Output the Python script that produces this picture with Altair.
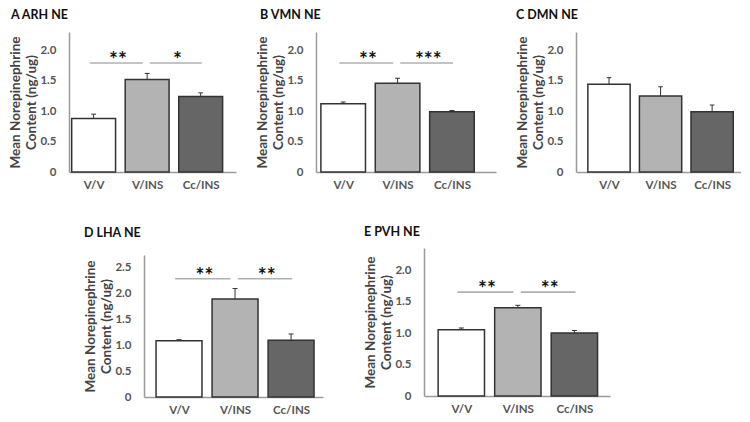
import altair as alt
import pandas as pd

# ---------------- data ----------------
groups = ["V/V", "V/INS", "Cc/INS"]
bar_fills = ["#ffffff", "#b3b3b3", "#666666"]

arh_mean = [0.88, 1.52, 1.24]
arh_upper = [0.95, 1.62, 1.30]
arh_sig_labels = ["**", "*"]
arh_sig_from = [0, 1]
arh_sig_to = [1, 2]
arh_sig_level = 1.79

vmn_mean = [1.12, 1.46, 0.99]
vmn_upper = [1.15, 1.54, 1.01]
vmn_sig_labels = ["**", "***"]
vmn_sig_from = [0, 1]
vmn_sig_to = [1, 2]
vmn_sig_level = 1.79

dmn_mean = [1.44, 1.25, 0.99]
dmn_upper = [1.55, 1.40, 1.10]

lha_mean = [1.09, 1.90, 1.10]
lha_upper = [1.11, 2.10, 1.22]
lha_sig_labels = ["**", "**"]
lha_sig_from = [0, 1]
lha_sig_to = [1, 2]
lha_sig_level = 2.29

pvh_mean = [1.05, 1.40, 1.00]
pvh_upper = [1.08, 1.44, 1.04]
pvh_sig_labels = ["**", "**"]
pvh_sig_from = [0, 1]
pvh_sig_to = [1, 2]
pvh_sig_level = 1.65

ticks_20 = [0, 0.5, 1.0, 1.5, 2.0]
ticks_25 = [0, 0.5, 1.0, 1.5, 2.0, 2.5]

FONT = "Lato"
YTITLE = ["Mean Norepinephrine", "Content (ng/ug)"]
label_expr_x = "['" + "','".join(groups) + "'][datum.value]"


def panel(title, mean, upper, sig, ymax, yticks, xdom, w, h, title_dx,
          title_offset, yrange=None, title_pad=1):
    df = pd.DataFrame({"group": groups, "idx": [0, 1, 2], "mean": mean,
                       "upper": upper, "fill": bar_fills})
    xs = alt.Scale(domain=xdom, nice=False, zero=False)
    if yrange is not None:
        ys = alt.Scale(domain=[0, ymax], nice=False, range=yrange)
    else:
        ys = alt.Scale(domain=[0, ymax], nice=False)
    xaxis = alt.Axis(values=[0, 1, 2], labelExpr=label_expr_x, title=None,
                     labelPadding=7)
    yaxis = alt.Axis(values=yticks, title=YTITLE, titlePadding=title_pad,
                     labelExpr="datum.value == 0 ? '0' : format(datum.value, '.1f')",
                     labelPadding=13)

    base = alt.Chart(df).transform_calculate(
        x0="datum.idx - 0.41", x1="datum.idx + 0.41",
        c0="datum.idx - 0.045", c1="datum.idx + 0.045")

    bars = base.mark_rect(stroke="#333333", strokeWidth=1.5).encode(
        x=alt.X("x0:Q", scale=xs, axis=xaxis), x2="x1:Q",
        y=alt.Y("mean:Q", scale=ys, axis=yaxis), y2=alt.datum(0),
        fill=alt.Fill("fill:N", scale=None, legend=None))
    err = base.mark_rule(color="#333333", strokeWidth=1).encode(
        x=alt.X("idx:Q", scale=xs, axis=xaxis),
        y=alt.Y("mean:Q", scale=ys, axis=yaxis), y2="upper:Q")
    cap = base.mark_rule(color="#333333", strokeWidth=1).encode(
        x=alt.X("c0:Q", scale=xs, axis=xaxis), x2="c1:Q",
        y=alt.Y("upper:Q", scale=ys, axis=yaxis))
    layers = [bars, err, cap]

    if sig is not None:
        labels, frm, to, level = sig
        sdf = pd.DataFrame({"label": labels, "frm": frm, "to": to,
                            "level": [level] * len(labels)})
        sbase = alt.Chart(sdf).transform_calculate(
            s="datum.frm + 0.12 * datum.frm - 0.07",
            e="datum.to + 0.1 * datum.to - 0.18").transform_calculate(
            m="(datum.s + datum.e) / 2 + 0.03")
        srule = sbase.mark_rule(color="#b0b0b0", strokeWidth=1.6).encode(
            x=alt.X("s:Q", scale=xs, axis=xaxis), x2="e:Q",
            y=alt.Y("level:Q", scale=ys, axis=yaxis))
        stext = sbase.mark_text(font=FONT, fontSize=21, fontWeight="bold",
                                color="#111111", baseline="alphabetic",
                                dy=4).encode(
            x=alt.X("m:Q", scale=xs, axis=xaxis),
            y=alt.Y("level:Q", scale=ys, axis=yaxis),
            text="label:N")
        layers += [srule, stext]

    return alt.layer(*layers).properties(
        width=w, height=h,
        title=alt.TitleParams(title, anchor="start", dx=title_dx,
                              offset=title_offset))


pA = panel("A  ARH NE", arh_mean, arh_upper,
           (arh_sig_labels, arh_sig_from, arh_sig_to, arh_sig_level),
           2.3, ticks_20, [-0.46, 2.66], 167, 140, 2, 11)
pB = panel("B  VMN NE", vmn_mean, vmn_upper,
           (vmn_sig_labels, vmn_sig_from, vmn_sig_to, vmn_sig_level),
           2.3, ticks_20, [-0.5, 2.81], 180, 140, 4, 11)
pC = panel("C  DMN NE", dmn_mean, dmn_upper, None,
           2.3, ticks_20, [-0.64, 2.56], 165, 140, 0, 11)
pD = panel("D  LHA NE", lha_mean, lha_upper,
           (lha_sig_labels, lha_sig_from, lha_sig_to, lha_sig_level),
           2.75, ticks_25, [-0.625, 2.57], 179, 149, 0, 9, yrange=[149, 7])
pE = panel("E  PVH NE", pvh_mean, pvh_upper,
           (pvh_sig_labels, pvh_sig_from, pvh_sig_to, pvh_sig_level),
           2.35, ticks_20, [-0.66, 2.63], 186, 148, 0, 10)

spacer = alt.Chart(pd.DataFrame({"v": [0]})).mark_point(opacity=0, size=1).encode(
    x=alt.X("v:Q", axis=None), y=alt.Y("v:Q", axis=None)).properties(
    width=1, height=1)

top = alt.hconcat(pA, pB, pC, spacing=19)
bottom_pair = alt.hconcat(pD, pE, spacing=40)
bottom = alt.hconcat(spacer, bottom_pair, spacing=13)

chart = alt.vconcat(top, bottom, spacing=34).properties(
    padding=0
).configure_view(strokeWidth=0).configure_axis(
    grid=False, ticks=False, domainColor="#9a9a9a", domainWidth=1.5,
    labelFont=FONT, labelFontSize=11.5, labelFontWeight="bold",
    labelColor="#555555", titleFont=FONT, titleFontSize=13.5,
    titleFontWeight="bold", titleColor="#444444", titleLineHeight=16
).configure_title(
    font=FONT, fontSize=12.5, fontWeight="bold", color="#111111"
)

chart.save("out.html", embed_options={"renderer": "svg", "actions": False})
